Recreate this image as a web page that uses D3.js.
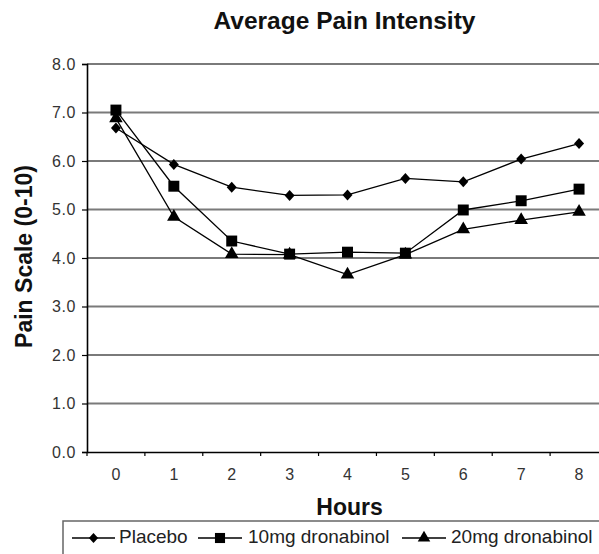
<!DOCTYPE html>
<html><head><meta charset="utf-8">
<script src="https://cdn.jsdelivr.net/npm/d3@7"></script>
<style>body{margin:0;background:#fff;} text{font-family:"Liberation Sans",Arial,sans-serif;}</style>
</head><body>
<svg id="c" width="599" height="554"></svg>
<script>
const hours = ["0","1","2","3","4","5","6","7","8"];
const placebo = [6.68, 5.93, 5.46, 5.29, 5.30, 5.64, 5.57, 6.04, 6.36];
const mg10 = [7.05, 5.48, 4.35, 4.08, 4.12, 4.10, 4.99, 5.18, 5.42];
const mg20 = [6.88, 4.85, 4.08, 4.07, 3.66, 4.07, 4.59, 4.78, 4.95];
const yTicks = [0,1,2,3,4,5,6,7,8];
const seriesNames = ["Placebo","10mg dronabinol","20mg dronabinol"];
const seriesData = [placebo, mg10, mg20];

const diamond = {draw(ctx,size){const r=Math.sqrt(size/2);ctx.moveTo(0,-r*1.1);ctx.lineTo(r,0);ctx.lineTo(0,r*1.1);ctx.lineTo(-r,0);ctx.closePath();}};
const symbols = [diamond, d3.symbolSquare, d3.symbolTriangle];
const symSizes = [50, 120, 80];

const svg = d3.select("#c");
const L=87, R=608, T=64, B=452;
const x = d3.scaleBand().domain(hours).range([L,R]);
const y = d3.scaleLinear().domain([0,8]).range([B,T]);
const FF = "Liberation Sans, Arial, sans-serif";

svg.append("text").attr("x",344.5).attr("y",29).attr("text-anchor","middle")
  .attr("font-size",24.5).attr("font-weight","bold").attr("fill","#111").text("Average Pain Intensity");

// gridlines
svg.append("g").selectAll("line").data(yTicks.slice(1)).join("line")
  .attr("x1",L).attr("x2",R).attr("y1",d=>y(d)).attr("y2",d=>y(d))
  .attr("stroke","#7a7a7a").attr("stroke-width",2);

// y axis
const ya = svg.append("g").attr("transform",`translate(${L},0)`)
  .call(d3.axisLeft(y).tickValues(yTicks).tickFormat(d3.format(".1f")).tickSize(5).tickPadding(6));
ya.select(".domain").attr("stroke","#000").attr("stroke-width",1.6);
ya.selectAll(".tick line").attr("stroke","#000").attr("stroke-width",1.2);
ya.selectAll("text").attr("font-size",16).attr("letter-spacing",0.6).attr("fill","#333").attr("font-family",FF);

// x axis
const xa = svg.append("g").attr("transform",`translate(0,${B})`)
  .call(d3.axisBottom(x).tickSize(0).tickPadding(17));
xa.select(".domain").attr("stroke","#000").attr("stroke-width",1.6);
xa.selectAll("text").attr("font-size",16).attr("fill","#333").attr("font-family",FF);
// ticks between categories
const edges = hours.map(h=>x(h)).concat([R]);
svg.append("g").selectAll("line").data(edges).join("line")
  .attr("x1",d=>d).attr("x2",d=>d).attr("y1",B).attr("y2",B+4)
  .attr("stroke","#000").attr("stroke-width",1.2);

svg.append("text").attr("transform",`translate(32,256.5) rotate(-90)`)
  .attr("text-anchor","middle").attr("font-size",23).attr("font-weight","bold").attr("fill","#111").text("Pain Scale (0-10)");
svg.append("text").attr("x",349.5).attr("y",515).attr("text-anchor","middle")
  .attr("font-size",23).attr("font-weight","bold").attr("fill","#111").text("Hours");

const cx = h=>x(h)+x.bandwidth()/2;
const line = d3.line().x((d,i)=>cx(hours[i])).y(d=>y(d));
seriesData.forEach((s,k)=>{
  svg.append("path").datum(s).attr("d",line).attr("fill","none").attr("stroke","#000").attr("stroke-width",1.3);
  svg.append("g").selectAll("path").data(s).join("path")
    .attr("transform",(d,i)=>`translate(${cx(hours[i])},${y(d)})`)
    .attr("d",d3.symbol(symbols[k],symSizes[k])).attr("fill","#000");
});

// legend
svg.append("rect").attr("x",63).attr("y",521).attr("width",560).attr("height",40)
  .attr("fill","none").attr("stroke","#666").attr("stroke-width",1.5);
const legX = [[72,115,119],[198,242,248],[402,446,451]];
seriesNames.forEach((n,k)=>{
  const [a,b,t]=legX[k];
  svg.append("line").attr("x1",a).attr("x2",b).attr("y1",538).attr("y2",538).attr("stroke","#000").attr("stroke-width",1.4);
  svg.append("path").attr("transform",`translate(${(a+b)/2},538)`).attr("d",d3.symbol(symbols[k],symSizes[k]*0.85)).attr("fill","#000");
  svg.append("text").attr("x",t).attr("y",543).attr("font-size",19).attr("fill","#222").attr("font-family",FF).text(n);
});
</script>
</body></html>
